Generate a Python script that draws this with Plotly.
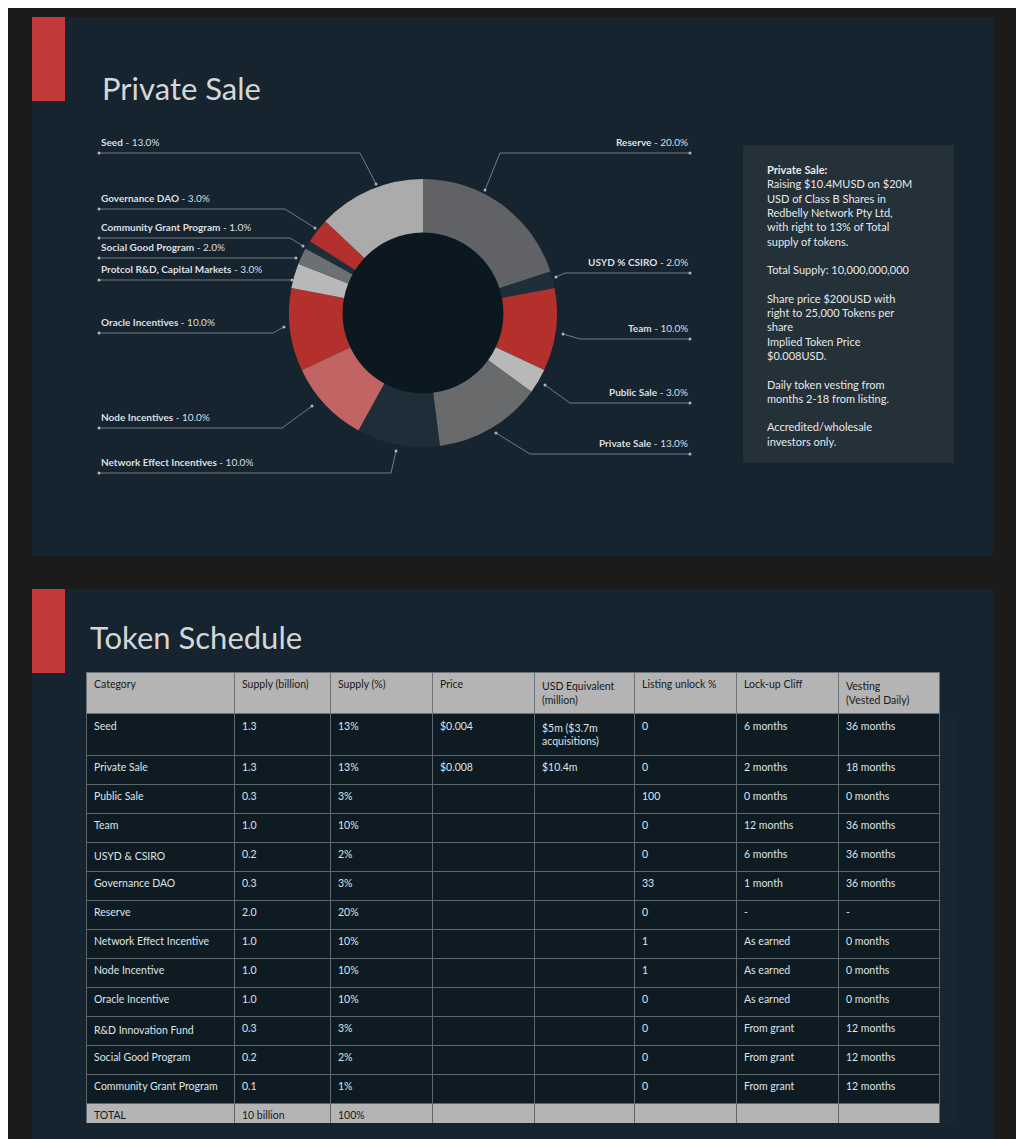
import plotly.graph_objects as go

W, H = 1024, 1139

# ---- donut data (clockwise from 12 o'clock) ----
slice_names = ["Reserve", "USYD % CSIRO", "Team", "Public Sale", "Private Sale",
               "Network Effect Incentives", "Node Incentives", "Oracle Incentives",
               "Protcol R&D, Capital Markets", "Social Good Program",
               "Community Grant Program", "Governance DAO", "Seed"]
slice_pct = [20.0, 2.0, 10.0, 3.0, 13.0, 10.0, 10.0, 10.0, 3.0, 2.0, 1.0, 3.0, 13.0]
slice_colors = ["#606266", "#1f2f39", "#b3302c", "#b8b8b8", "#696a6c", "#1d2e39",
                "#c26464", "#b3302c", "#b8b8b8", "#6b7075", "#1f2f39", "#b3302c", "#ababab"]

# ---- table data ----
tbl_header = ["Category", "Supply (billion)", "Supply (%)", "Price",
              "USD Equivalent<br>(million)", "Listing unlock %", "Lock-up Cliff",
              "Vesting<br>(Vested Daily)"]
categories = ["Seed", "Private Sale", "Public Sale", "Team", "USYD & CSIRO", "Governance DAO",
              "Reserve", "Network Effect Incentive", "Node Incentive", "Oracle Incentive",
              "R&D Innovation Fund", "Social Good Program", "Community Grant Program", "TOTAL"]
supply_bn = ["1.3", "1.3", "0.3", "1.0", "0.2", "0.3", "2.0", "1.0", "1.0", "1.0", "0.3", "0.2", "0.1", "10 billion"]
supply_pct = ["13%", "13%", "3%", "10%", "2%", "3%", "20%", "10%", "10%", "10%", "3%", "2%", "1%", "100%"]
price = ["$0.004", "$0.008"] + [""] * 12
usd_eq = ["$5m ($3.7m<br>acquisitions)", "$10.4m"] + [""] * 12
unlock = ["0", "0", "100", "0", "0", "33", "0", "1", "1", "0", "0", "0", "0", ""]
cliff = ["6 months", "2 months", "0 months", "12 months", "6 months", "1 month", "-",
         "As earned", "As earned", "As earned", "From grant", "From grant", "From grant", ""]
vesting = ["36 months", "18 months", "0 months", "36 months", "36 months", "36 months", "-",
           "0 months", "0 months", "0 months", "12 months", "12 months", "12 months", ""]

OFF = 8  # page body margin


def px(x):
    return (x - OFF) / W


def py(y):
    return 1 - (y - OFF) / H


fig = go.Figure()

# donut
cx, cy, r = 423, 313, 134
fig.add_trace(go.Pie(
    labels=slice_names, values=slice_pct, sort=False, direction="clockwise", rotation=0,
    hole=0.6, marker=dict(colors=slice_colors, line=dict(width=0)),
    textinfo="none", hoverinfo="label+percent", showlegend=False,
    domain=dict(x=[px(cx - r), px(cx + r)], y=[py(cy + r), py(cy - r)])))

# table
cell_fill = ["#0e1b23"] * 13 + ["#b4b4b4"]
cell_font = ["#dfe3e6"] * 13 + ["#1a1a1a"]
fig.add_trace(go.Table(
    domain=dict(x=[px(86), px(939)], y=[py(1123), py(672)]),
    columnwidth=[148, 96, 102, 102, 100, 102, 102, 101],
    header=dict(values=tbl_header, fill_color="#b4b4b4", line_color="#6c7378",
                font=dict(color="#1a1a1a", size=10.5, family="Lato"), align="left", height=38),
    cells=dict(values=[categories, supply_bn, supply_pct, price, usd_eq, unlock, cliff, vesting],
               fill_color=[cell_fill] * 8, line_color="#5d676e",
               font=dict(color=[cell_font] * 8, size=10.5, family="Lato"), align="left", height=29)))

shapes = [
    dict(type="rect", x0=px(32), x1=px(993), y0=py(556), y1=py(17), fillcolor="#15242e", line_width=0, layer="below"),
    dict(type="rect", x0=px(32), x1=px(993), y0=py(1139), y1=py(589), fillcolor="#15242e", line_width=0, layer="below"),
    dict(type="rect", x0=px(32), x1=px(65), y0=py(101), y1=py(17), fillcolor="#c23b3a", line_width=0),
    dict(type="rect", x0=px(32), x1=px(65), y0=py(673), y1=py(589), fillcolor="#c23b3a", line_width=0),
    dict(type="circle", x0=px(cx - 81), x1=px(cx + 81), y0=py(cy + 81), y1=py(cy - 81),
         fillcolor="#0c1820", line_width=0, layer="below"),
    dict(type="rect", x0=px(743), x1=px(954), y0=py(463), y1=py(145), fillcolor="#243139", line_width=0),
]

# label leaders: (text, text x, line y, line start x, line end x, slice point, side)
leaders = [
    ("<b>Seed</b> - 13.0%", 99, 153, 99, 360, (376, 184), "l"),
    ("<b>Governance DAO</b> - 3.0%", 99, 209, 99, 285, (315, 228), "l"),
    ("<b>Community Grant Program</b> - 1.0%", 99, 238, 99, 290, (303, 246), "l"),
    ("<b>Social Good Program</b> - 2.0%", 99, 258, 99, 296, (296, 258), "l"),
    ("<b>Protcol R&D, Capital Markets</b> - 3.0%", 99, 280, 99, 292, (292, 280), "l"),
    ("<b>Oracle Incentives</b> - 10.0%", 99, 333, 99, 273, (284, 327), "l"),
    ("<b>Node Incentives</b> - 10.0%", 99, 428, 99, 282, (312, 406), "l"),
    ("<b>Network Effect Incentives</b> - 10.0%", 99, 473, 99, 391, (396, 451), "l"),
    ("<b>Reserve</b> - 20.0%", 690, 153, 500, 690, (485, 190), "r"),
    ("<b>USYD % CSIRO</b> - 2.0%", 690, 273, 565, 690, (556, 277), "r"),
    ("<b>Team</b> - 10.0%", 690, 339, 580, 690, (563, 334), "r"),
    ("<b>Public Sale</b> - 3.0%", 690, 403, 570, 690, (545, 385), "r"),
    ("<b>Private Sale</b> - 13.0%", 690, 454, 530, 690, (496, 433), "r"),
]

annotations = [
    dict(text="Private Sale", x=px(100), y=py(88), xanchor="left", yanchor="middle",
         font=dict(size=31, color="#d4d6d8", family="Lato")),
    dict(text="Token Schedule", x=px(88), y=py(637), xanchor="left", yanchor="middle",
         font=dict(size=31, color="#d4d6d8", family="Lato")),
    dict(text=("<b>Private Sale:</b><br>Raising $10.4MUSD on $20M<br>USD of Class B Shares in<br>"
               "Redbelly Network Pty Ltd,<br>with right to 13% of Total<br>supply of tokens.<br><br>"
               "Total Supply: 10,000,000,000<br><br>Share price $200USD with<br>right to 25,000 Tokens per<br>"
               "share<br>Implied Token Price<br>$0.008USD.<br><br>Daily token vesting from<br>"
               "months 2-18 from listing.<br><br>Accredited/wholesale<br>investors only."),
         x=px(765), y=py(161), xanchor="left", yanchor="top", align="left",
         font=dict(size=11, color="#e6e8ea", family="Lato")),
]

for text, tx, ly, x0, x1, (sx, sy), side in leaders:
    annotations.append(dict(text=text, x=px(tx), y=py(ly - 3), xanchor="left" if side == "l" else "right",
                            yanchor="bottom", showarrow=False,
                            font=dict(size=10, color="#dcdfe2", family="Lato")))
    near = x1 if side == "l" else x0
    shapes.append(dict(type="path", path=f"M {px(x0)} {py(ly)} L {px(x1)} {py(ly)}",
                       line=dict(color="#8a9298", width=0.8)))
    shapes.append(dict(type="path", path=f"M {px(near)} {py(ly)} L {px(sx)} {py(sy)}",
                       line=dict(color="#8a9298", width=0.8)))
    far = x0 if side == "l" else x1
    for dx, dy in [(far, ly), (sx, sy)]:
        shapes.append(dict(type="circle", x0=px(dx - 1.5), x1=px(dx + 1.5), y0=py(dy + 1.5), y1=py(dy - 1.5),
                           fillcolor="#b0b6ba", line_width=0))

for a in annotations:
    a.setdefault("showarrow", False)
    a["xref"] = "paper"
    a["yref"] = "paper"
for s in shapes:
    s["xref"] = "paper"
    s["yref"] = "paper"

fig.update_layout(width=W, height=H, margin=dict(l=0, r=0, t=0, b=0),
                  paper_bgcolor="#1b1b1b", plot_bgcolor="#1b1b1b",
                  shapes=shapes, annotations=annotations, font=dict(family="Lato"))
fig.write_html("out.html")
